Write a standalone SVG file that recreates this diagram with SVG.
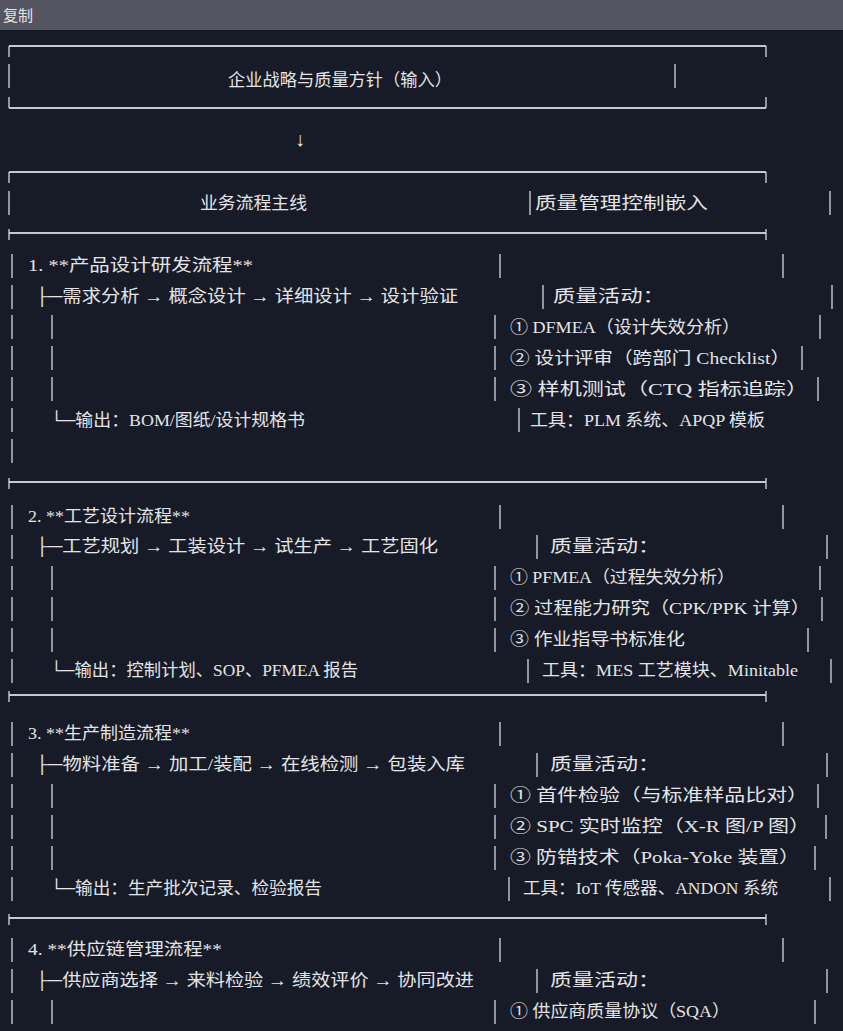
<svg xmlns="http://www.w3.org/2000/svg" width="843" height="1031" viewBox="0 0 843 1031">
<style>
text{font-family:"Liberation Serif","Noto Sans CJK SC",serif;font-size:17px;fill:#e4e4e6}
.b{stroke:#d8d8dc;stroke-width:1.3;fill:none}
.h{stroke:#c8c8cc;stroke-width:2;fill:none}
</style>
<rect width="843" height="1031" fill="#161b27"/>
<rect width="843" height="30" fill="#545560"/>
<text x="3" y="21" style="font-family:'Noto Sans CJK SC',sans-serif;font-size:15px">复制</text>
<g id="input">
<path class="h" d="M9 46H766"/><path class="b" d="M9 46V57M766 46V57M9 64V88M675 64V88M9 97V108M766 97V108"/>
<path class="h" d="M9 108H766"/>
<text x="228" y="86" textLength="224" lengthAdjust="spacingAndGlyphs">企业战略与质量方针（输入）</text>
</g>
<g id="connectors"><text x="300" y="146" text-anchor="middle" style="font-size:20px">↓</text></g>
<g id="header">
<path class="h" d="M9 172H766"/><path class="b" d="M9 172V183M766 172V183M9 191V215M530 191V215M830 191V215"/>
<text x="200" y="209" textLength="107" lengthAdjust="spacingAndGlyphs">业务流程主线</text>
<text x="535" y="209" textLength="173" lengthAdjust="spacingAndGlyphs">质量管理控制嵌入</text>
<path class="h" d="M9 233H766"/><path class="b" d="M9 229V240M766 229V240"/>
</g>
<g id="s1">
<path class="b" d="M12 254V278M500 254V278M783 254V278"/>
<text x="28" y="271" textLength="225" lengthAdjust="spacingAndGlyphs">1. **产品设计研发流程**</text>
<path class="b" d="M12 285V309M543 285V309M832 285V309"/>
<text x="35" y="302" textLength="423" lengthAdjust="spacingAndGlyphs">├─需求分析 → 概念设计 → 详细设计 → 设计验证</text>
<text x="553" y="302" textLength="112" lengthAdjust="spacingAndGlyphs">质量活动：</text>
<path class="b" d="M12 315V339M52 315V339M495 315V339M820 315V339"/>
<text x="510" y="333" textLength="230" lengthAdjust="spacingAndGlyphs">① DFMEA（设计失效分析）</text>
<path class="b" d="M12 346V370M52 346V370M495 346V370M802 346V370"/>
<text x="510" y="364" textLength="280" lengthAdjust="spacingAndGlyphs">② 设计评审（跨部门 Checklist）</text>
<path class="b" d="M12 377V401M52 377V401M495 377V401M818 377V401"/>
<text x="510" y="395" textLength="298" lengthAdjust="spacingAndGlyphs">③ 样机测试（CTQ 指标追踪）</text>
<path class="b" d="M12 408V432M519 408V432"/>
<text x="50" y="426" textLength="255" lengthAdjust="spacingAndGlyphs">└─输出：BOM/图纸/设计规格书</text>
<text x="530" y="426" textLength="235" lengthAdjust="spacingAndGlyphs">工具：PLM 系统、APQP 模板</text>
<path class="b" d="M12 439V463"/>
<path class="h" d="M9 482H766"/><path class="b" d="M9 478V489M766 478V489"/>
</g>
<g id="s2">
<path class="b" d="M12 505V529M500 505V529M783 505V529"/>
<text x="28" y="522" textLength="162" lengthAdjust="spacingAndGlyphs">2. **工艺设计流程**</text>
<path class="b" d="M12 535V559M537 535V559M827 535V559"/>
<text x="35" y="552" textLength="403" lengthAdjust="spacingAndGlyphs">├─工艺规划 → 工装设计 → 试生产 → 工艺固化</text>
<text x="550" y="552" textLength="110" lengthAdjust="spacingAndGlyphs">质量活动：</text>
<path class="b" d="M12 566V590M52 566V590M495 566V590M820 566V590"/>
<text x="510" y="583" textLength="225" lengthAdjust="spacingAndGlyphs">① PFMEA（过程失效分析）</text>
<path class="b" d="M12 597V621M52 597V621M495 597V621M822 597V621"/>
<text x="510" y="614" textLength="300" lengthAdjust="spacingAndGlyphs">② 过程能力研究（CPK/PPK 计算）</text>
<path class="b" d="M12 628V652M52 628V652M495 628V652M808 628V652"/>
<text x="510" y="645" textLength="175" lengthAdjust="spacingAndGlyphs">③ 作业指导书标准化</text>
<path class="b" d="M12 659V683M528 659V683M831 659V683"/>
<text x="50" y="676" textLength="308" lengthAdjust="spacingAndGlyphs">└─输出：控制计划、SOP、PFMEA 报告</text>
<text x="542" y="676" textLength="256" lengthAdjust="spacingAndGlyphs">工具：MES 工艺模块、Minitable</text>
<path class="h" d="M9 695H766"/><path class="b" d="M9 691V702M766 691V702"/>
</g>
<g id="s3">
<path class="b" d="M12 722V746M500 722V746M783 722V746"/>
<text x="28" y="739" textLength="162" lengthAdjust="spacingAndGlyphs">3. **生产制造流程**</text>
<path class="b" d="M12 753V777M537 753V777M827 753V777"/>
<text x="35" y="770" textLength="430" lengthAdjust="spacingAndGlyphs">├─物料准备 → 加工/装配 → 在线检测 → 包装入库</text>
<text x="550" y="770" textLength="110" lengthAdjust="spacingAndGlyphs">质量活动：</text>
<path class="b" d="M12 784V808M52 784V808M495 784V808M818 784V808"/>
<text x="510" y="801" textLength="298" lengthAdjust="spacingAndGlyphs">① 首件检验（与标准样品比对）</text>
<path class="b" d="M12 815V839M52 815V839M495 815V839M826 815V839"/>
<text x="510" y="832" textLength="300" lengthAdjust="spacingAndGlyphs">② SPC 实时监控（X-R 图/P 图）</text>
<path class="b" d="M12 846V870M52 846V870M495 846V870M815 846V870"/>
<text x="510" y="863" textLength="290" lengthAdjust="spacingAndGlyphs">③ 防错技术（Poka-Yoke 装置）</text>
<path class="b" d="M12 877V901M509 877V901M830 877V901"/>
<text x="50" y="894" textLength="272" lengthAdjust="spacingAndGlyphs">└─输出：生产批次记录、检验报告</text>
<text x="523" y="894" textLength="255" lengthAdjust="spacingAndGlyphs">工具：IoT 传感器、ANDON 系统</text>
<path class="h" d="M9 918H766"/><path class="b" d="M9 914V925M766 914V925"/>
</g>
<g id="s4">
<path class="b" d="M12 938V962M500 938V962M783 938V962"/>
<text x="28" y="955" textLength="194" lengthAdjust="spacingAndGlyphs">4. **供应链管理流程**</text>
<path class="b" d="M12 969V993M537 969V993M827 969V993"/>
<text x="35" y="986" textLength="439" lengthAdjust="spacingAndGlyphs">├─供应商选择 → 来料检验 → 绩效评价 → 协同改进</text>
<text x="550" y="986" textLength="110" lengthAdjust="spacingAndGlyphs">质量活动：</text>
<path class="b" d="M12 1000V1024M52 1000V1024M495 1000V1024M815 1000V1024"/>
<text x="510" y="1017" textLength="220" lengthAdjust="spacingAndGlyphs">① 供应商质量协议（SQA）</text>
</g>
</svg>
